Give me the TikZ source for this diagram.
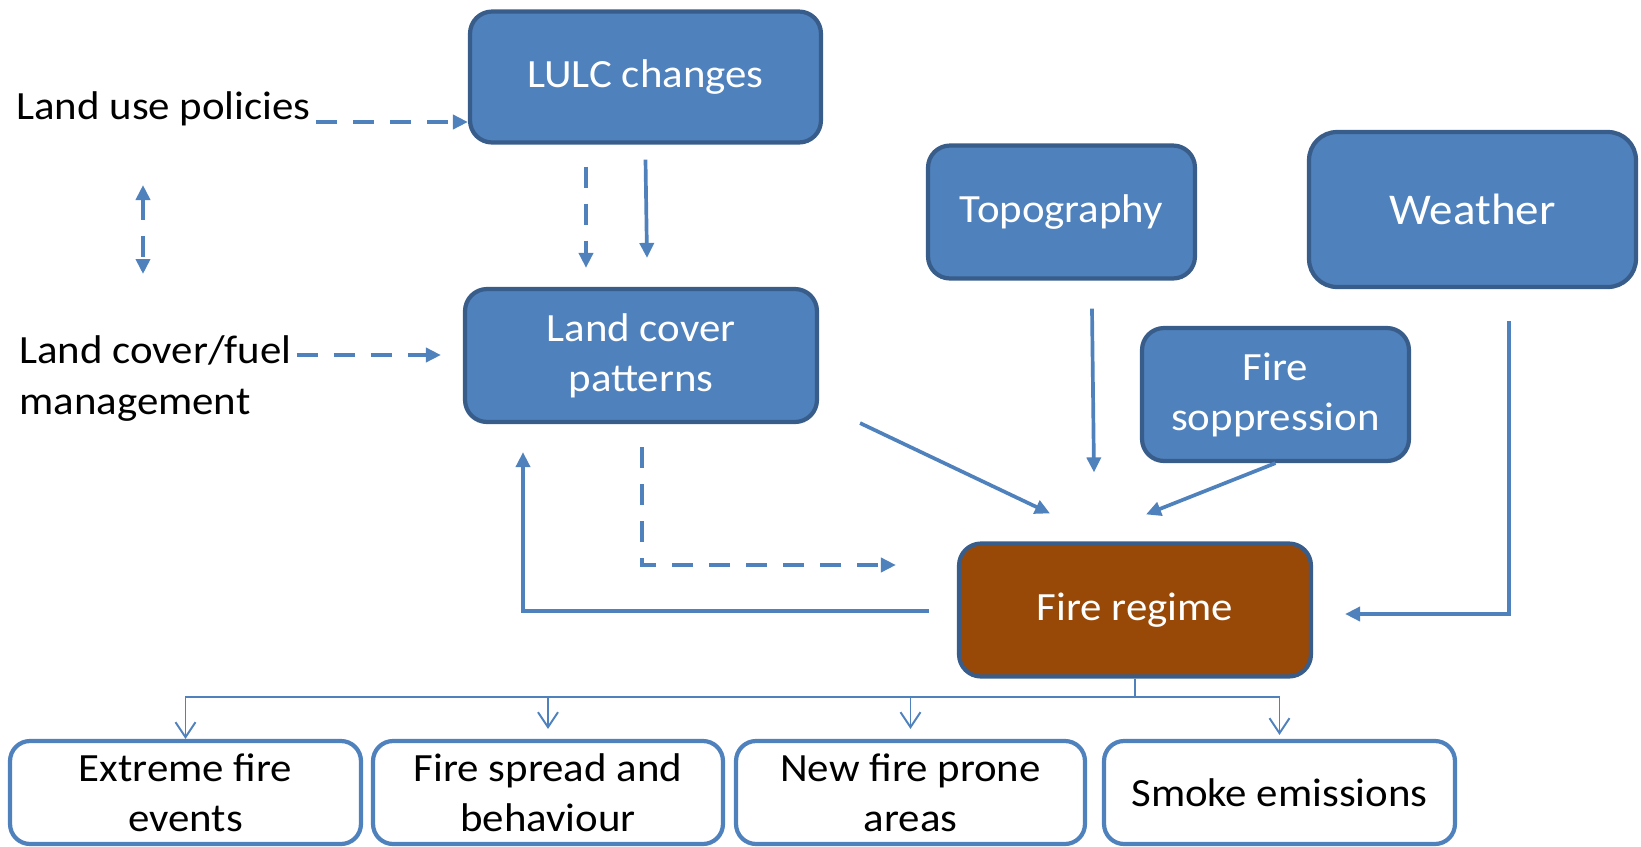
\documentclass[tikz,border=0pt]{standalone}
\usepackage{fontspec}
\setmainfont{Carlito}[FakeStretch=1.07]
\usetikzlibrary{arrows.meta,calc}
\definecolor{boxblue}{HTML}{4F81BD}
\definecolor{edgeblue}{HTML}{385D8A}
\definecolor{firebrown}{HTML}{984807}
\tikzset{tri/.tip={Triangle[length=0.3cm,width=0.28cm]}}
\begin{document}
\begin{tikzpicture}[x=0.02cm,y=-0.02cm,
  every node/.style={font=\fontsize{22.8pt}{28.5pt}\selectfont},
  factor/.style={draw=edgeblue,fill=boxblue,text=white,line width=2.4pt,rounded corners=0.44cm,align=center,inner sep=0pt,minimum width=7.04cm,minimum height=2.66cm},
  effect/.style={draw=boxblue,fill=white,line width=2.4pt,rounded corners=0.4cm,align=center,inner sep=0pt,minimum width=7.02cm,minimum height=2.06cm},
  lbl/.style={inner sep=0pt,align=left},
  link/.style={boxblue,line width=2.1pt,-tri},
  dlink/.style={link,dash pattern=on 0.42cm off 0.32cm},
  branch/.style={boxblue,line width=1.1pt,-{Straight Barb[length=0.3cm,width=0.4cm]}}]
\useasboundingbox (0,0) rectangle (1641,846);
\node[factor,minimum width=7.02cm,minimum height=2.62cm] (lulc) at (645.5,77) {LULC changes};
\node[factor] (cover) at (641,355.5) {Land cover\\patterns};
\node[factor,minimum width=5.34cm] (topo) at (1061.5,212) {Topography};
\node[factor,minimum width=6.54cm,minimum height=3.1cm,rounded corners=0.56cm,font=\fontsize{25pt}{30pt}\selectfont] (weather) at (1472.5,209.5) {Weather};
\node[factor,minimum width=5.34cm] (supp) at (1275.5,394.5) {Fire\\soppression};
\node[factor,fill=firebrown] (regime) at (1135,610) {Fire regime};
\node[effect] (extreme) at (185.5,792.5) {Extreme fire\\events};
\node[effect,minimum width=7cm] (spread) at (548,792.5) {Fire spread and\\behaviour};
\node[effect,minimum width=6.98cm] (prone) at (910.5,792.5) {New fire prone\\areas};
\node[effect] (smoke) at (1279.5,792.5) {Smoke emissions};
\node[lbl,anchor=base west] (policy) at (16,119) {Land use policies};
\node[lbl,anchor=base west] (manage) at (19,414) {Land cover/fuel\\management};
\coordinate (polup) at (143,185);
\coordinate (mgdown) at (143,274);
\draw[dlink] ($(policy.base east)+(5,3)$) coordinate (p1) -- (p1 -| lulc.west);
\draw[dlink,tri-tri] (polup) -- (mgdown);
\draw[dlink] ($(manage.base east)+(5,-59)$) coordinate (m1) -- ($(m1 -| cover.west)+(-22,0)$);
\draw[dlink] ($(lulc.south)+(-59.5,22)$) coordinate (l1) -- ($(l1 |- cover.north)+(0,-19)$);
\draw[link] ($(lulc.south)+(0,15)$) -- ($(cover.north)+(6,-29)$);
\draw[dlink] ($(cover.south)+(1,23)$) |- ($(regime.west)+(-61,-45)$);
\draw[link] ($(regime.west)+(-28,1)$) -| ($(cover.south)+(-118,28)$);
\draw[link] ($(cover.south east)+(41,-1)$) -- ($(regime.north)+(-85,-28)$);
\draw[link] ($(topo.south)+(30.5,28)$) -- ($(regime.north)+(-41,-69)$);
\draw[link] (supp.south) -- ($(regime.north)+(11,-27)$);
\draw[link] ($(weather.south)+(36.5,32)$) |- ($(regime.east)+(32,4)$);
\coordinate (split) at ($(regime.south)+(0,18)$);
\draw[boxblue,line width=1.1pt] (regime.south) -- (split);
\foreach \b/\g in {extreme/0,spread/10,prone/10,smoke/4}
  \draw[branch] (split) -| ($(\b.north)+(0,-\g)$);
\end{tikzpicture}
\end{document}
